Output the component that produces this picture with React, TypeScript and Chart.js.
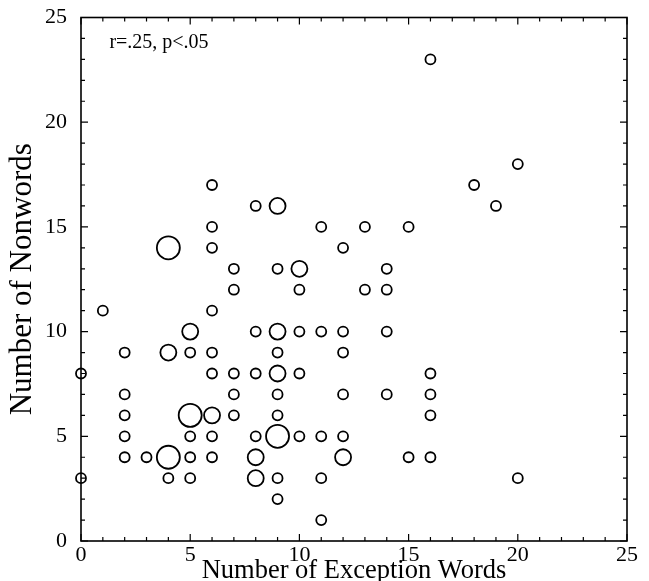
import React, { useEffect, useRef } from "react";
import { Chart, registerables } from "chart.js";

Chart.register(...registerables);

// Number of exception words read correctly (x) per subject group
const exceptionWords = [
  0, 0, 1,
  2, 2, 2, 2, 2,
  3,
  4, 4, 4, 4,
  5, 5, 5, 5, 5, 5,
  6, 6, 6, 6, 6, 6, 6, 6, 6,
  7, 7, 7, 7, 7,
  8, 8, 8, 8, 8, 8,
  9, 9, 9, 9, 9, 9, 9, 9, 9, 9,
  10, 10, 10, 10, 10,
  11, 11, 11, 11, 11,
  12, 12, 12, 12, 12, 12,
  13, 13,
  14, 14, 14, 14,
  15, 15,
  16, 16, 16, 16, 16,
  18, 19, 20, 20,
];

// Number of nonwords read correctly (y)
const nonwords = [
  8, 3, 11,
  9, 7, 6, 5, 4,
  4,
  14, 9, 4, 3,
  10, 9, 6, 5, 4, 3,
  17, 15, 14, 11, 9, 8, 6, 5, 4,
  13, 12, 8, 7, 6,
  16, 10, 8, 5, 4, 3,
  16, 13, 10, 9, 8, 7, 6, 5, 3, 2,
  13, 12, 10, 8, 5,
  15, 10, 5, 3, 1,
  14, 10, 9, 7, 5, 4,
  15, 12,
  13, 12, 10, 7,
  15, 4,
  23, 8, 7, 6, 4,
  17, 16, 18, 3,
];

// How many subjects share each point (drawn as circle size)
const subjectCounts = [
  1, 1, 1,
  1, 1, 1, 1, 1,
  1,
  3, 2, 3, 1,
  2, 1, 3, 1, 1, 1,
  1, 1, 1, 1, 1, 1, 2, 1, 1,
  1, 1, 1, 1, 1,
  1, 1, 1, 1, 2, 2,
  2, 1, 2, 1, 2, 1, 1, 3, 1, 1,
  2, 1, 1, 1, 1,
  1, 1, 1, 1, 1,
  1, 1, 1, 1, 1, 2,
  1, 1,
  1, 1, 1, 1,
  1, 1,
  1, 1, 1, 1, 1,
  1, 1, 1, 1,
];

const xTitle = "Number of Exception Words";
const yTitle = "Number of Nonwords";
const annotationText = "r=.25, p<.05";
const axisMin = 0;
const axisMax = 25;
const majorStep = 5;
const minorStep = 1;

const SERIF = "'Liberation Serif', 'DejaVu Serif', serif";

const framePlugin = {
  id: "frameWithInwardTicks",
  beforeDatasetsDraw(chart: any) {
    const { ctx, chartArea, scales } = chart;
    const { left, right, top, bottom } = chartArea;
    ctx.save();
    ctx.strokeStyle = "#000";
    ctx.lineWidth = 1.6;
    ctx.strokeRect(left, top, right - left, bottom - top);
    ctx.lineWidth = 1.2;
    const xs = scales.x;
    const ys = scales.y;
    for (let v = axisMin; v <= axisMax; v += minorStep) {
      const len = v % majorStep === 0 ? 7 : 4;
      const px = xs.getPixelForValue(v);
      const py = ys.getPixelForValue(v);
      ctx.beginPath();
      ctx.moveTo(px, bottom);
      ctx.lineTo(px, bottom - len);
      ctx.moveTo(px, top);
      ctx.lineTo(px, top + len);
      ctx.moveTo(left, py);
      ctx.lineTo(left + len, py);
      ctx.moveTo(right, py);
      ctx.lineTo(right - len, py);
      ctx.stroke();
    }
    ctx.restore();
  },
  afterDraw(chart: any) {
    const { ctx, scales } = chart;
    ctx.save();
    ctx.fillStyle = "#000";
    ctx.font = `20px ${SERIF}`;
    ctx.textBaseline = "middle";
    ctx.textAlign = "left";
    ctx.fillText(
      annotationText,
      scales.x.getPixelForValue(1.3),
      scales.y.getPixelForValue(23.8)
    );
    ctx.restore();
  },
};

export default function App() {
  const canvasRef = useRef<HTMLCanvasElement | null>(null);

  useEffect(() => {
    document.body.style.margin = "0";
    const canvas = canvasRef.current;
    if (!canvas) return;
    const radiusFor = (count: number) =>
      count >= 3 ? 11.5 : count === 2 ? 8 : 5;
    const points = exceptionWords.map((x, i) => ({ x, y: nonwords[i] }));
    const chart = new Chart(canvas, {
      type: "scatter",
      data: {
        datasets: [
          {
            label: "Subjects",
            data: points,
            pointRadius: (c: any) => radiusFor(subjectCounts[c.dataIndex]),
            pointHoverRadius: (c: any) => radiusFor(subjectCounts[c.dataIndex]),
            pointBackgroundColor: "rgba(0,0,0,0)",
            pointBorderColor: "#000",
            pointBorderWidth: 1.8,
            clip: false as any,
          },
        ],
      },
      options: {
        animation: false,
        responsive: false,
        maintainAspectRatio: false,
        layout: { padding: { left: 0, top: 17.5, right: 22, bottom: 0 } },
        plugins: {
          legend: { display: false },
          tooltip: { enabled: false },
        },
        scales: {
          x: {
            type: "linear",
            min: axisMin,
            max: axisMax,
            grid: { display: false, drawTicks: false },
            border: { display: false },
            ticks: {
              stepSize: majorStep,
              color: "#000",
              padding: 3,
              font: { family: SERIF, size: 22, lineHeight: 1 },
            },
            title: {
              display: true,
              text: xTitle,
              color: "#000",
              padding: { top: 0, bottom: -3 },
              font: { family: SERIF, size: 26.5, lineHeight: 1 },
            },
            afterFit(scale: any) {
              scale.height = 40;
            },
          },
          y: {
            type: "linear",
            min: axisMin,
            max: axisMax,
            grid: { display: false, drawTicks: false },
            border: { display: false },
            ticks: {
              stepSize: majorStep,
              color: "#000",
              padding: 14,
              font: { family: SERIF, size: 22, lineHeight: 0.2 },
            },
            title: {
              display: true,
              text: yTitle,
              color: "#000",
              padding: { top: 7, bottom: 0 },
              font: { family: SERIF, size: 31, lineHeight: 1 },
            },
            afterFit(scale: any) {
              scale.width = 81;
            },
          },
        },
      },
      plugins: [framePlugin],
    });
    return () => chart.destroy();
  }, []);

  return (
    <div style={{ position: "absolute", left: 0, top: 0, width: 649, height: 581, background: "#fff" }}>
      <canvas ref={canvasRef} width={649} height={581} style={{ width: 649, height: 581, display: "block" }} />
    </div>
  );
}
